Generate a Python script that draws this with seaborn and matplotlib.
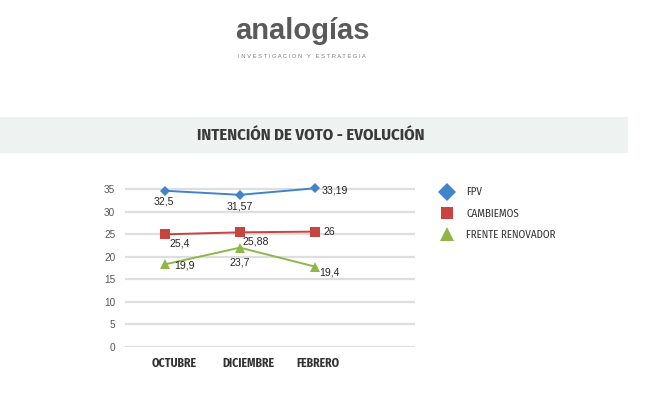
import matplotlib
matplotlib.use("Agg")
import matplotlib.pyplot as plt
from matplotlib.lines import Line2D
from matplotlib.patches import Rectangle
import seaborn as sns
import pandas as pd

# ---- data ----
meses = ["OCTUBRE", "DICIEMBRE", "FEBRERO"]
fpv = [34.6, 33.7, 35.15]
cambiemos = [24.95, 25.4, 25.55]
frente_renovador = [18.3, 22.0, 17.8]
fpv_labels = ["32,5", "31,57", "33,19"]
cambiemos_labels = ["25,4", "25,88", "26"]
fr_labels = ["19,9", "23,7", "19,4"]
series_names = ["FPV", "CAMBIEMOS", "FRENTE RENOVADOR"]
y_ticks = [0, 5, 10, 15, 20, 25, 30, 35]

NARROW = ["Fira Sans Condensed", "DejaVu Sans"]
ARIAL = ["Liberation Sans", "DejaVu Sans"]

sns.set_theme(style="white")
plt.rcParams["font.family"] = ARIAL

fig = plt.figure(figsize=(6.5, 3.96), dpi=100)
fig.patch.set_facecolor("white")

# title band
fig.patches.append(Rectangle((0, 1 - 153 / 396), 628 / 650, 36 / 396,
                             transform=fig.transFigure, facecolor="#eef3f2",
                             edgecolor="none", zorder=0))
fig.text(311 / 650, 1 - 135 / 396, "INTENCIÓN DE VOTO - EVOLUCIÓN",
         ha="center", va="center", fontsize=12, fontweight="bold",
         color="#3a3a3a", family=NARROW)

# logo
fig.text(302 / 650, 1 - 31 / 396, "analogías", ha="center", va="center",
         fontsize=21, color="#5a5a5a", fontweight="bold")
fig.text(302 / 650, 1 - 56 / 396, "I N V E S T I G A C I O N   Y   E S T R A T E G I A",
         ha="center", va="center", fontsize=4.2, color="#808080")

ax = fig.add_axes([125 / 650, 49 / 396, 290 / 650, (347 - 186.7) / 396])

colors = {"FPV": "#4283c9", "CAMBIEMOS": "#c8443f", "FRENTE RENOVADOR": "#8fb748"}
markers = {"FPV": ("D", 5), "CAMBIEMOS": ("s", 6.5), "FRENTE RENOVADOR": ("^", 7)}
data = {"FPV": fpv, "CAMBIEMOS": cambiemos, "FRENTE RENOVADOR": frente_renovador}

for name in series_names:
    df = pd.DataFrame({"mes": meses, "valor": data[name]})
    m, ms = markers[name]
    sns.lineplot(data=df, x="mes", y="valor", ax=ax, color=colors[name],
                 marker=m, markersize=ms, markeredgewidth=0, linewidth=1.4,
                 zorder=3, clip_on=False)

# data labels: (dx px, dy px, ha)
offsets = {
    "FPV": [(-1, -11, "center"), (0, -12, "center"), (7, -2, "left")],
    "CAMBIEMOS": [(5, -9, "left"), (3, -9, "left"), (8, 0, "left")],
    "FRENTE RENOVADOR": [(9, -1, "left"), (0, -15, "center"), (4, -6, "left")],
}
labels = {"FPV": fpv_labels, "CAMBIEMOS": cambiemos_labels, "FRENTE RENOVADOR": fr_labels}
for name in series_names:
    for i, (v, lab) in enumerate(zip(data[name], labels[name])):
        dx, dy, ha = offsets[name][i]
        ax.annotate(lab, (i, v), xytext=(dx, dy), textcoords="offset pixels",
                    ha=ha, va="center", fontsize=7.6, color="#262626",
                    family=ARIAL, zorder=4)

ax.set_xlim(-0.53, 3.33)
ax.set_ylim(0, 35.5)
ax.set_yticks(y_ticks)
ax.set_yticklabels([str(t) for t in y_ticks], family=ARIAL,
                   fontsize=7.2, color="#555555")
# category labels sit slightly to the right of the points in the reference
label_shift_px = [9, 8, 3]
ax.set_xticks([i + s / 75 for i, s in enumerate(label_shift_px)])
ax.set_xticklabels(meses, family=NARROW, fontsize=8.5,
                   fontweight="bold", color="#333333")
ax.set_xlim(-0.53, 3.33)
ax.set_xlabel("")
ax.set_ylabel("")
ax.tick_params(axis="both", length=0)
ax.tick_params(axis="y", pad=7)
ax.tick_params(axis="x", pad=7)
ax.grid(axis="y", color="#dcdfdf", linewidth=1.6)
ax.grid(axis="x", visible=False)
ax.set_axisbelow(True)
for s in ax.spines.values():
    s.set_visible(False)

handles = [Line2D([], [], linestyle="none", marker=markers[n][0], color=colors[n],
                  markersize={"FPV": 9, "CAMBIEMOS": 8, "FRENTE RENOVADOR": 10}[n],
                  markeredgewidth=0) for n in series_names]
fig.legend(handles, series_names, loc="upper left",
           bbox_to_anchor=(439 / 650, 1 - 187 / 396), frameon=False,
           prop={"family": NARROW, "size": 7.9}, handlelength=1.5,
           handletextpad=1.0, labelspacing=0.97, borderpad=0, borderaxespad=0,
           labelcolor="#333333")

fig.savefig("out.png", dpi=100, facecolor="white")
